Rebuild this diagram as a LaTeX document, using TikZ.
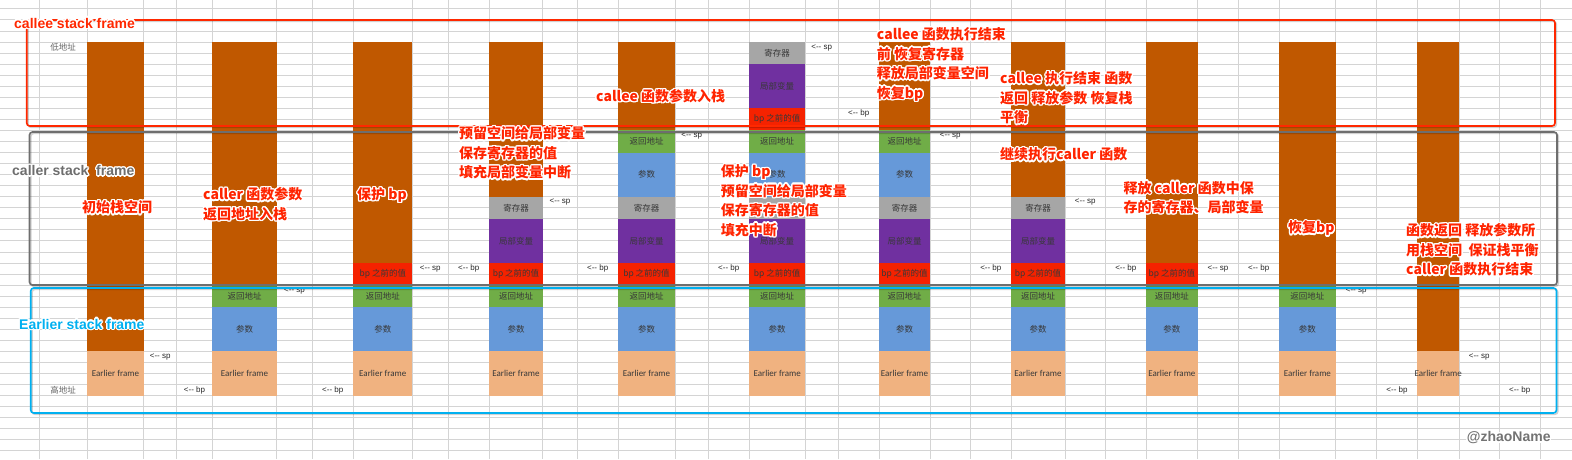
\documentclass[tikz,border=0pt]{standalone}
\usepackage{fontspec}
\setmainfont{Liberation Sans}
\newfontfamily\cjkfont{Noto Sans CJK SC}
\newfontfamily\calibfont{Carlito}
\usepackage[copies]{contour}
\contourlength{1.3pt}
\newcommand\glow[1]{\contour{white}{#1}}
\def\rowh{11.05}

\definecolor{stackorange}{RGB}{192,88,0}
\definecolor{reggray}{RGB}{166,166,166}
\definecolor{localpurple}{RGB}{112,48,160}
\definecolor{bpred}{RGB}{245,34,0}
\definecolor{retgreen}{RGB}{112,173,71}
\definecolor{argblue}{RGB}{102,153,217}
\definecolor{earlypeach}{RGB}{240,178,128}
\definecolor{noteRed}{RGB}{255,36,0}
\definecolor{frameRed}{RGB}{255,40,0}
\definecolor{frameGray}{RGB}{110,110,110}
\definecolor{frameBlue}{RGB}{0,176,240}
\definecolor{gridGray}{RGB}{212,212,212}

\tikzset{
  gridline/.style={gridGray, line width=0.9pt},
  cell/.style={inner sep=0pt, text=black!78, font=\cjkfont\fontsize{8.5}{10}\selectfont},
  ptr/.style={inner sep=0pt, text=black!85, font=\fontsize{8}{9}\selectfont},
  stackframe/.style={line width=1.6pt, rounded corners=3pt},
  framelabel/.style={anchor=base west, inner sep=0pt, font=\bfseries\fontsize{14}{16}\selectfont},
  note/.style={anchor=north west, inner sep=0pt, align=left, text=noteRed,
    font=\cjkfont\bfseries\fontsize{14}{19.5}\selectfont}
}

\begin{document}
\begin{tikzpicture}[x=1pt, y=-1pt]
  \useasboundingbox (0,0) rectangle (1572,459);

  % Spreadsheet grid
  \foreach \k in {-3,...,37}
    \draw[gridline] (0,{42+\k*\rowh}) -- (1572,{42+\k*\rowh});
  \foreach \x in {39.3,87.3,143.7,176.7,212.3,276.7,312.3,353.3,412.3,448.3,489.3,542.7,577.3,618,675,708.3,749.3,805,838.3,879,930,970.7,1011,1065,1105.7,1146,1197.7,1238.3,1279,1335.7,1376.7,1417.3,1459,1499.3,1540}
    \draw[gridline] (\x,0) -- (\x,459);

  % Stack columns: free space on top, used slots below
  \foreach \n/\xa/\xb/\dep in {1/87.3/143.7/28, 2/212.3/276.7/22, 3/353.3/412.3/20,
      4/489.3/542.7/14, 5/618/675/8, 6/749.3/805/0, 7/879/930/8, 8/1011/1065/14,
      9/1146/1197.7/20, 10/1279/1335.7/22, 11/1417.3/1459/28} {
    \ifnum\dep>0 \fill[stackorange] (\xa,42) rectangle (\xb,{42+\dep*\rowh}); \fi
    \foreach \ya/\yb/\col/\lab in {0/2/reggray/寄存器, 2/6/localpurple/局部变量,
        6/8/bpred/bp 之前的值, 8/10/retgreen/返回地址, 10/14/argblue/参数,
        14/16/reggray/寄存器, 16/20/localpurple/局部变量, 20/22/bpred/bp 之前的值,
        22/24/retgreen/返回地址, 24/28/argblue/参数,
        28/32/earlypeach/{\calibfont\fontsize{9}{10}\selectfont Earlier frame}} {
      \ifnum\ya<\dep\relax\else
        \fill[\col] (\xa,{42+\ya*\rowh}) rectangle (\xb,{42+\yb*\rowh});
        \node[cell] (seg-\n-\ya) at ({(\xa+\xb)/2},{42+(\ya+\yb)*\rowh/2}) {\lab};
      \fi
    }
  }

  % Address ends
  \node[cell, text=black!60] (lowaddr) at (63,{42+0.5*\rowh}) {低地址};
  \node[cell, text=black!60] (highaddr) at (63,{42+31.5*\rowh}) {高地址};

  % sp / bp pointers
  \foreach \n/\sx/\sr/\bx/\br in {1/160.2/28/194.5/31, 2/294.5/22/332.8/31,
      3/430.3/20/468.8/20, 4/560/14/597.7/20, 5/691.7/8/728.8/20, 6/821.7/0/858.7/6,
      7/950.3/8/990.8/20, 8/1085.3/14/1125.8/20, 9/1218/20/1258.7/20,
      10/1356.2/22/1397/31, 11/1479.2/28/1519.7/31} {
    \node[ptr] (sp-\n) at (\sx,{42+(\sr+0.5)*\rowh}) {<-{}- sp};
    \node[ptr] (bp-\n) at (\bx,{42+(\br+0.5)*\rowh}) {<-{}- bp};
  }

  % Frames
  \foreach \fc/\xa/\ya/\xb/\yb in {frameRed/26.7/20/1555/126,
      frameGray/29.5/132/1557/285, frameBlue/30.7/288/1556.5/413} {
    \draw[stackframe, black, opacity=0.18, shift={(1.3,1.3)}] (\xa,\ya) rectangle (\xb,\yb);
    \draw[stackframe, \fc] (\xa,\ya) rectangle (\xb,\yb);
  }
  \node[framelabel, text=frameRed] (calleelbl) at (14,28) {\glow{callee stack frame}};
  \node[framelabel, text=frameGray] (callerlbl) at (12,175.7) {\glow{caller stack\ \ frame}};
  \node[framelabel, text=frameBlue] (earlierlbl) at (19,329) {\glow{Earlier stack frame}};

  % Step notes
  \node[note] (note-init) at (82,200.5) {\glow{初始栈空间}};
  \node[note] (note-args) at (203,187.5) {\glow{caller 函数参数}\\\glow{返回地址入栈}};
  \node[note] (note-savebp) at (357,187.5) {\glow{保护 bp}};
  \node[note] (note-locals) at (459,126.5) {\glow{预留空间给局部变量}\\\glow{保存寄存器的值}\\\glow{填充局部变量中断}};
  \node[note] (note-calleeargs) at (596,89.2) {\glow{callee 函数参数入栈}};
  \node[note] (note-calleebp) at (720.7,164.5) {\glow{保护 bp}\\\glow{预留空间给局部变量}\\\glow{保存寄存器的值}\\\glow{填充中断}};
  \node[note] (note-calleeend) at (876.7,27.5) {\glow{callee 函数执行结束}\\\glow{前 恢复寄存器}\\\glow{释放局部变量空间}\\\glow{恢复bp}};
  \node[note] (note-calleeret) at (1000,71.5) {\glow{callee 执行结束 函数}\\\glow{返回 释放参数 恢复栈}\\\glow{平衡}};
  \node[note] (note-resume) at (1000,147.5) {\glow{继续执行caller 函数}};
  \node[note] (note-release) at (1123.3,180.8) {\glow{释放 caller 函数中保}\\\glow{存的寄存器、局部变量}};
  \node[note] (note-restorebp) at (1288,220.8) {\glow{恢复bp}};
  \node[note] (note-callerret) at (1406,223.5) {\glow{函数返回 释放参数所}\\\glow{用栈空间\ \ 保证栈平衡}\\\glow{caller 函数执行结束}};

  % Watermark
  \node[framelabel, text=black!55] (mark) at (1466.7,441.7) {\glow{@zhaoName}};
\end{tikzpicture}
\end{document}
